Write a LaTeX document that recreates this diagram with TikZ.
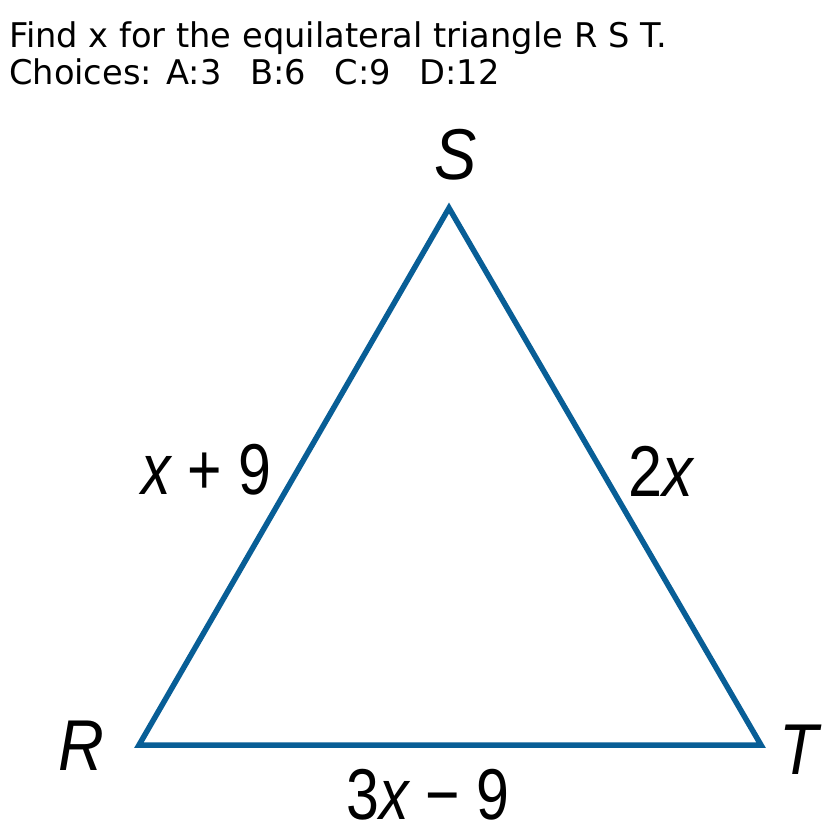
\documentclass[tikz,border=0pt]{standalone}
\usepackage{fontspec}
\setmainfont{DejaVu Sans}
\newfontfamily\lblfont{Liberation Sans}
\definecolor{triblue}{RGB}{8,94,150}
\begin{document}
\begin{tikzpicture}[x=1pt,y=-1pt,
  hdr/.style={anchor=base west,inner sep=0pt,font=\fontsize{34}{40}\selectfont},
  lbl/.style={inner sep=0pt,font=\lblfont\fontsize{72}{80}\selectfont},
  side/.style={draw=triblue,line width=5.5pt,line join=miter}]
\useasboundingbox (0,0) rectangle (834,836);
\node[hdr] (h1) at (9,47) {\scalebox{0.99}[1]{Find x for the equilateral triangle R S T.}};
\node[hdr] (h2) at (9,84) {\scalebox{0.99}[1]{Choices: A:3\hspace{0.85em}B:6\hspace{0.85em}C:9\hspace{0.85em}D:12}};
\coordinate (S) at (449,208);
\coordinate (R) at (139,745);
\coordinate (T) at (761,745);
\draw[side] (R) -- (S) -- (T) -- cycle;
\node[lbl] (lS) at (456,155) {\scalebox{0.88}[1]{\itshape S}};
\node[lbl] (lR) at (81,746) {\scalebox{0.88}[1]{\itshape R}};
\node[lbl] (lT) at (799,750) {\scalebox{0.88}[1]{\itshape T}};
\node[lbl] (a) at (206,470) {\scalebox{0.82}[1]{\itshape x\upshape\hspace{0.28em}+\hspace{0.28em}9}};
\node[lbl] (b) at (661,471) {\scalebox{0.85}[1]{2\itshape x}};
\node[lbl] (c) at (428,795) {\scalebox{0.82}[1]{3\itshape x\upshape\hspace{0.28em}\textminus\hspace{0.28em}9}};
\end{tikzpicture}
\end{document}
